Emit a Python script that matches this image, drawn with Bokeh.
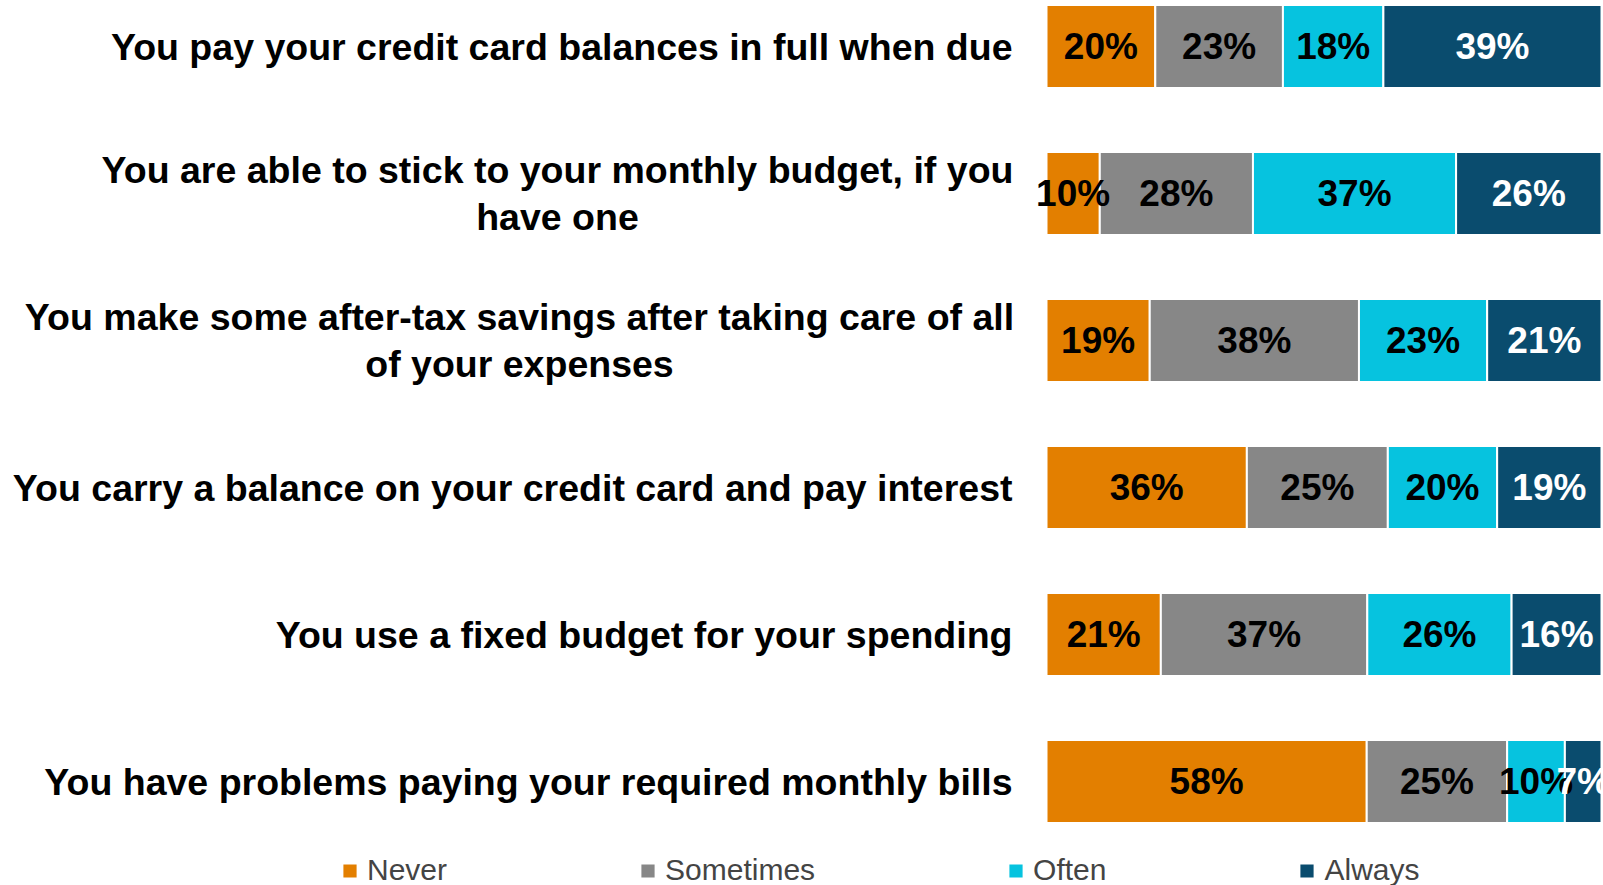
from bokeh.plotting import figure
from bokeh.models import ColumnDataSource, Range1d, Legend, LegendItem
from bokeh.embed import file_html
from bokeh.resources import INLINE
from bokeh.core.properties import value

# ---------------- data ----------------
categories = [
    "You pay your credit card balances in full when due",
    "You are able to stick to your monthly budget, if you\nhave one",
    "You make some after-tax savings after taking care of all\nof your expenses",
    "You carry a balance on your credit card and pay interest",
    "You use a fixed budget for your spending",
    "You have problems paying your required monthly bills",
]
series = ["Never", "Sometimes", "Often", "Always"]
never = [19.6, 9.6, 18.6, 36.1, 20.6, 57.7]
sometimes = [23.0, 27.6, 37.7, 25.4, 37.2, 25.3]
often = [18.1, 36.6, 23.1, 19.7, 26.0, 10.4]
always = [39.3, 26.2, 20.6, 18.8, 16.2, 6.6]

colors = ["#E37F00", "#878787", "#06C3DF", "#0A4C6E"]
label_colors = ["black", "black", "black", "white"]

FONT = value("Liberation Sans")

# ---------------- layout (screen pixels) ----------------
W, H = 1603, 885
BAR_X0, PX_PER_PCT = 1046, 5.55        # where 0 % sits, pixels per percent
ROW0_Y, ROW_PITCH = 46, 147            # centre of first row, row spacing

p = figure(
    width=W, height=H,
    x_range=Range1d(-BAR_X0 / PX_PER_PCT, (W - BAR_X0) / PX_PER_PCT),
    y_range=Range1d((H - ROW0_Y) / ROW_PITCH, -ROW0_Y / ROW_PITCH),
    x_axis_location=None, y_axis_location=None,
    toolbar_location=None, output_backend="svg",
    min_border=0,
)
p.outline_line_color = None
p.xgrid.visible = False
p.ygrid.visible = False

ypos = list(range(len(categories)))
values = {"Never": never, "Sometimes": sometimes, "Often": often, "Always": always}
src = ColumnDataSource(dict(y=ypos, **values))

renderers = p.hbar_stack(series, y="y", height=0.565, color=colors,
                         line_color="white", line_width=2, source=src)

# value labels centred in each segment
lx, ly, lt, lc = [], [], [], []
for i in ypos:
    left = 0.0
    for s, col in zip(series, label_colors):
        v = values[s][i]
        lx.append(left + v / 2)
        ly.append(i)
        lt.append(f"{v:.0f}%")
        lc.append(col)
        left += v
p.text(x="x", y="y", text="t", text_color="c",
       source=ColumnDataSource(dict(x=lx, y=ly, t=lt, c=lc)),
       text_font=FONT, text_font_style="bold", text_font_size="37px",
       text_align="center", text_baseline="middle")

# category labels
single = [i for i, c in enumerate(categories) if "\n" not in c]
multi = [i for i, c in enumerate(categories) if "\n" in c]
p.text(x=[0] * len(single), y=single, text=[categories[i] for i in single],
       x_offset=-34, text_font=FONT, text_font_style="bold", text_font_size="37.5px",
       text_align="right", text_baseline="middle", text_color="black")
multi_offsets = {1: -489, 2: -527}
p.text(x=[0] * len(multi), y=multi, text=[categories[i] for i in multi],
       x_offset=[multi_offsets[i] for i in multi],
       text_font=FONT, text_font_style="bold", text_font_size="37.5px",
       text_align="center", text_baseline="middle", text_color="black",
       text_line_height=1.12)

legend = Legend(
    items=[LegendItem(label=s, renderers=[r]) for s, r in zip(series, renderers)],
    orientation="horizontal", location=(340, -2), padding=0, margin=0,
    spacing=191, glyph_width=19, glyph_height=19, label_standoff=8,
    label_text_font="Liberation Sans", label_text_font_size="30px",
    background_fill_alpha=0, border_line_alpha=0,
)
p.add_layout(legend)

open("out.html", "w").write(file_html(p, INLINE))
